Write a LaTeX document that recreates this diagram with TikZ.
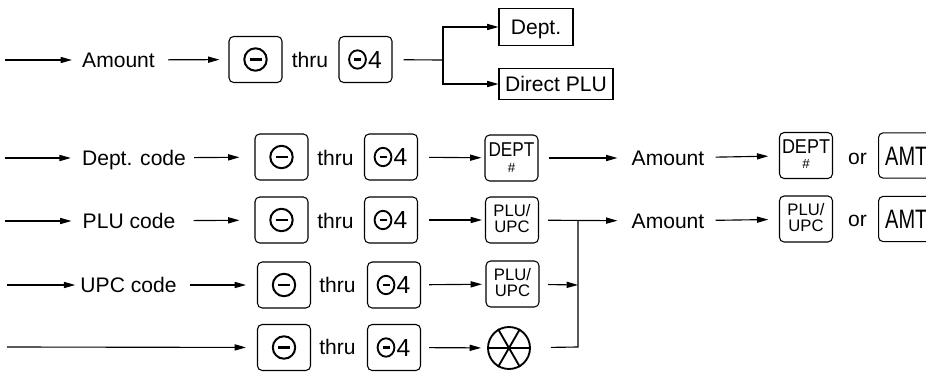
\documentclass[tikz,border=0pt]{standalone}
\usepackage{fontspec}
\setmainfont{Liberation Sans}
\usetikzlibrary{arrows.meta,calc}
\begin{document}
\begin{tikzpicture}[x=0.75pt,y=-0.75pt,
  arr/.style={line width=0.85pt,-{Triangle[length=8.5pt,width=4.6pt]}},
  ln/.style={line width=0.85pt},
  lbl/.style={inner sep=0pt,font=\fontsize{15.8}{18}\selectfont,text height=11.3pt,text depth=0pt},
  key/.style={draw,line width=0.8pt,rounded corners=3.5pt,minimum width=39.75pt,minimum height=34.5pt,inner sep=0pt},
  box/.style={draw,line width=0.8pt,inner sep=0pt,font=\fontsize{15.8}{18}\selectfont,text height=11.3pt,text depth=0pt},
  ktxt/.style={inner sep=0pt,font=\fontsize{12.5}{12.5}\selectfont,text height=8.9pt,text depth=0pt},
  dtxt/.style={inner sep=0pt,font=\fontsize{15}{15}\selectfont,text height=10.7pt,text depth=0pt},
  htxt/.style={inner sep=0pt,font=\fontsize{10}{10}\selectfont,text height=7.1pt,text depth=0pt},
  amttxt/.style={draw,line width=0.8pt,rounded corners=3.5pt,minimum height=34pt,inner xsep=5pt,inner ysep=0pt,font=\fontsize{20}{20}\selectfont,text height=14.3pt,text depth=0pt,anchor=west},
  spk/.style={line width=1.4pt}
]
\useasboundingbox (0,0) rectangle (926,372);

% ---------- row 1 ----------
\coordinate (s1) at (5,60);
\node[lbl] (a1) at (118.5,60) {Amount};
\node[key] (m1) at (255.5,59.5) {};
\node[lbl] (t1) at (310,60) {thru};
\node[key] (f1) at (365.5,59.5) {};
\coordinate (j1) at (443,60);
\node[box,minimum width=55.5pt,minimum height=27.75pt] (dept) at (536,27) {Dept.};
\node[box,minimum width=85.5pt,minimum height=23pt] (dplu) at (556,84) {Direct PLU};

\draw[arr,shorten >=7.5pt] (s1) -- (a1);
\draw[arr,shorten <=9.75pt,shorten >=6.75pt] (a1) -- (m1);
\draw[ln,shorten <=8.25pt] (f1) -- (j1);
\draw[arr] (j1) |- (dept);
\draw[arr] (j1) |- (dplu);

% ---------- row 2 ----------
\coordinate (s2) at (5,158);
\node[lbl] (a2) at (134,158) {Dept. code};
\node[key] (m2) at (281.5,157) {};
\node[lbl] (t2) at (335.5,158) {thru};
\node[key] (f2) at (391,157) {};
\node[key] (d2) at (511.5,158) {};
\node[dtxt] (d2t) at ($(d2)+(0,-9)$) {\scalebox{0.86}[1]{DEPT}};
\node[htxt] (d2h) at ($(d2)+(0,10)$) {\#};
\node[lbl] (a2b) at (668,158) {Amount};
\node[key] (d2b) at (806,155.5) {};
\node[dtxt] (d2bt) at ($(d2b)+(0,-9)$) {\scalebox{0.9}[1]{DEPT}};
\node[htxt] (d2bh) at ($(d2b)+(0,8.5)$) {\#};
\node[lbl] (o2) at (857.5,157) {or};
\node[amttxt] (amt2) at (878,155.5) {\scalebox{0.75}[1]{AMT}};

\draw[arr,shorten >=8.25pt] (s2) -- (a2);
\draw[arr,shorten <=6pt,shorten >=11.25pt] (a2) -- (m2);
\draw[arr,shorten <=8.25pt,shorten >=2.25pt] (f2) -- (d2);
\draw[arr,shorten <=7.5pt,shorten >=10.5pt] (d2) -- (a2b);
\draw[arr,shorten <=8.25pt,shorten >=8pt] (a2b) -- (d2b);

% ---------- row 3 ----------
\coordinate (s3) at (5,221);
\node[lbl] (a3) at (129,221) {PLU code};
\node[key] (m3) at (281.5,220) {};
\node[lbl] (t3) at (335.5,221) {thru};
\node[key] (f3) at (391,220) {};
\node[key] (p3) at (512,220) {};
\node[ktxt] (p3t) at ($(p3)+(0,-9)$) {PLU/};
\node[ktxt] (p3u) at ($(p3)+(0,7)$) {UPC};
\coordinate (j3) at (578,221);
\node[lbl] (a3b) at (668,221) {Amount};
\node[key] (p3b) at (806,219) {};
\node[ktxt] (p3bt) at ($(p3b)+(0,-9)$) {PLU/};
\node[ktxt] (p3bu) at ($(p3b)+(0,7)$) {UPC};
\node[lbl] (o3) at (857.5,219) {or};
\node[amttxt] (amt3) at (878,219) {\scalebox{0.75}[1]{AMT}};

\draw[arr,shorten >=8.25pt] (s3) -- (a3);
\draw[arr,shorten <=13.5pt,shorten >=11.25pt] (a3) -- (m3);
\draw[arr,shorten <=8.25pt,shorten >=2.25pt] (f3) -- (p3);
\draw[arr,shorten <=6.75pt,shorten >=10.5pt] (p3) -- (a3b);
\draw[arr,shorten <=8.25pt,shorten >=8pt] (a3b) -- (p3b);

% ---------- row 4 ----------
\coordinate (s4) at (7,285);
\node[lbl] (a4) at (128.5,285) {UPC code};
\node[key] (m4) at (284,285) {};
\node[lbl] (t4) at (337.5,285) {thru};
\node[key] (f4) at (394,285) {};
\node[key] (p4) at (512.5,284) {};
\node[ktxt] (p4t) at ($(p4)+(0,-9)$) {PLU/};
\node[ktxt] (p4u) at ($(p4)+(0,7)$) {UPC};
\coordinate (j4) at (578,285);

\draw[arr,shorten >=3.75pt] (s4) -- (a4);
\draw[arr,shorten <=9.75pt,shorten >=8.25pt] (a4) -- (m4);
\draw[arr,shorten <=6pt,shorten >=2.6pt] (f4) -- (p4);
\draw[arr,shorten <=6.4pt] (p4) -- (j4);

% ---------- row 5 ----------
\coordinate (s5) at (7,347);
\node[key] (m5) at (284,347.5) {};
\node[lbl] (t5) at (337.5,347) {thru};
\node[key] (f5) at (394,347.5) {};
\node[circle,draw,line width=1.4pt,minimum size=31.5pt,inner sep=0pt] (x5) at (509,348) {};
\draw[spk] (x5.west) -- (x5.east);
\draw[spk] (x5.60) -- (x5.240);
\draw[spk] (x5.120) -- (x5.300);
\coordinate (j5) at (578,347);

\draw[arr,shorten >=8.25pt] (s5) -- (m5);
\draw[arr,shorten <=6pt,shorten >=4.5pt] (f5) -- (x5);
\draw[ln,shorten <=15pt] (x5) -- (j5) -- (j3);

% ---------- key symbols ----------
\foreach \k in {m1,m2,m3,m4,m5} {
  \draw[line width=1.5pt] (\k.center) circle[radius=8.4pt];
  \draw[line width=2.2pt] ($(\k.center)+(-6,0)$) -- ($(\k.center)+(6,0)$);
}
\foreach \k in {f1,f2,f3,f4,f5} {
  \draw[line width=1.4pt] ($(\k.center)+(-8,0)$) ellipse[x radius=6.3pt,y radius=6.9pt];
  \draw[line width=2pt] ($(\k.center)+(-11.5,0)$) -- ($(\k.center)+(-4.5,0)$);
  \node[inner sep=0pt,font=\fontsize{18.5}{20}\selectfont,text height=13.3pt,text depth=0pt] (\k-4) at ($(\k.center)+(9.5,0)$) {4};
}
\end{tikzpicture}
\end{document}
